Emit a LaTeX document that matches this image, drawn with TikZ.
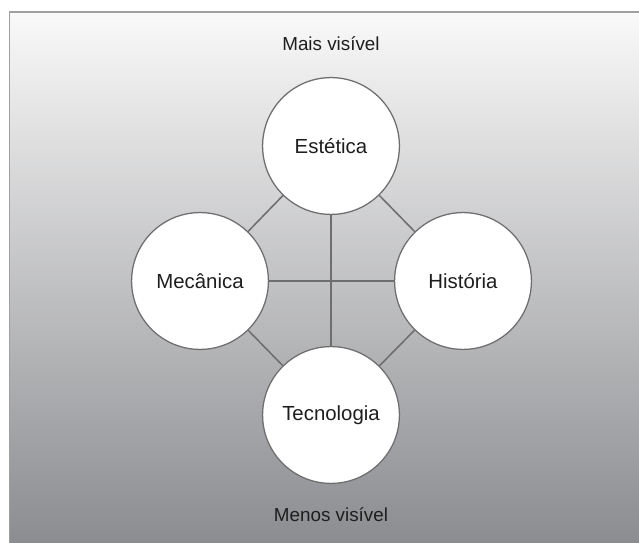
\documentclass[tikz,border=0pt]{standalone}
\usepackage{fontspec}
\setmainfont{Liberation Sans}
\usepackage{tikz}
\usetikzlibrary{positioning}

\definecolor{bgtop}{RGB}{249,249,249}
\definecolor{bgbottom}{RGB}{136,137,141}
\definecolor{edgegray}{RGB}{110,110,112}
\definecolor{framegray}{RGB}{160,160,162}
\definecolor{txtgray}{RGB}{30,30,30}

\begin{document}
\begin{tikzpicture}[x=0.025cm, y=-0.025cm,
    aspect/.style={circle, draw=edgegray, line width=0.9pt, fill=white,
        minimum size=3.42cm, inner sep=0pt, text=txtgray,
        font=\fontsize{14.5}{17}\selectfont},
    level/.style={text=txtgray, font=\fontsize{13.4}{16}\selectfont},
    link/.style={draw=edgegray, line width=1.1pt}]
    \useasboundingbox (0,0) rectangle (639,543);
    % Background with frame
    \shade[top color=bgtop, bottom color=bgbottom] (9.5,12) rectangle (660,560);
    \draw[framegray, line width=1.4pt] (9.5,560) -- (9.5,12) -- (660,12);
    % Visibility labels
    \node[level] (top) at (331,44) {Mais visível};
    \node[level] (bottom) at (331,515) {Menos visível};
    % The four elements
    \node[aspect] (est) at (331,146) {Estética};
    \node[aspect] (mec) at (200,281) {Mecânica};
    \node[aspect] (his) at (463,281) {História};
    \node[aspect] (tec) at (331,415) {Tecnologia};
    % Connections between elements
    \foreach \a/\b in {est/mec,est/his,mec/tec,his/tec,est/tec,mec/his} {
        \draw[link] (\a) -- (\b);
    }
\end{tikzpicture}
\end{document}
